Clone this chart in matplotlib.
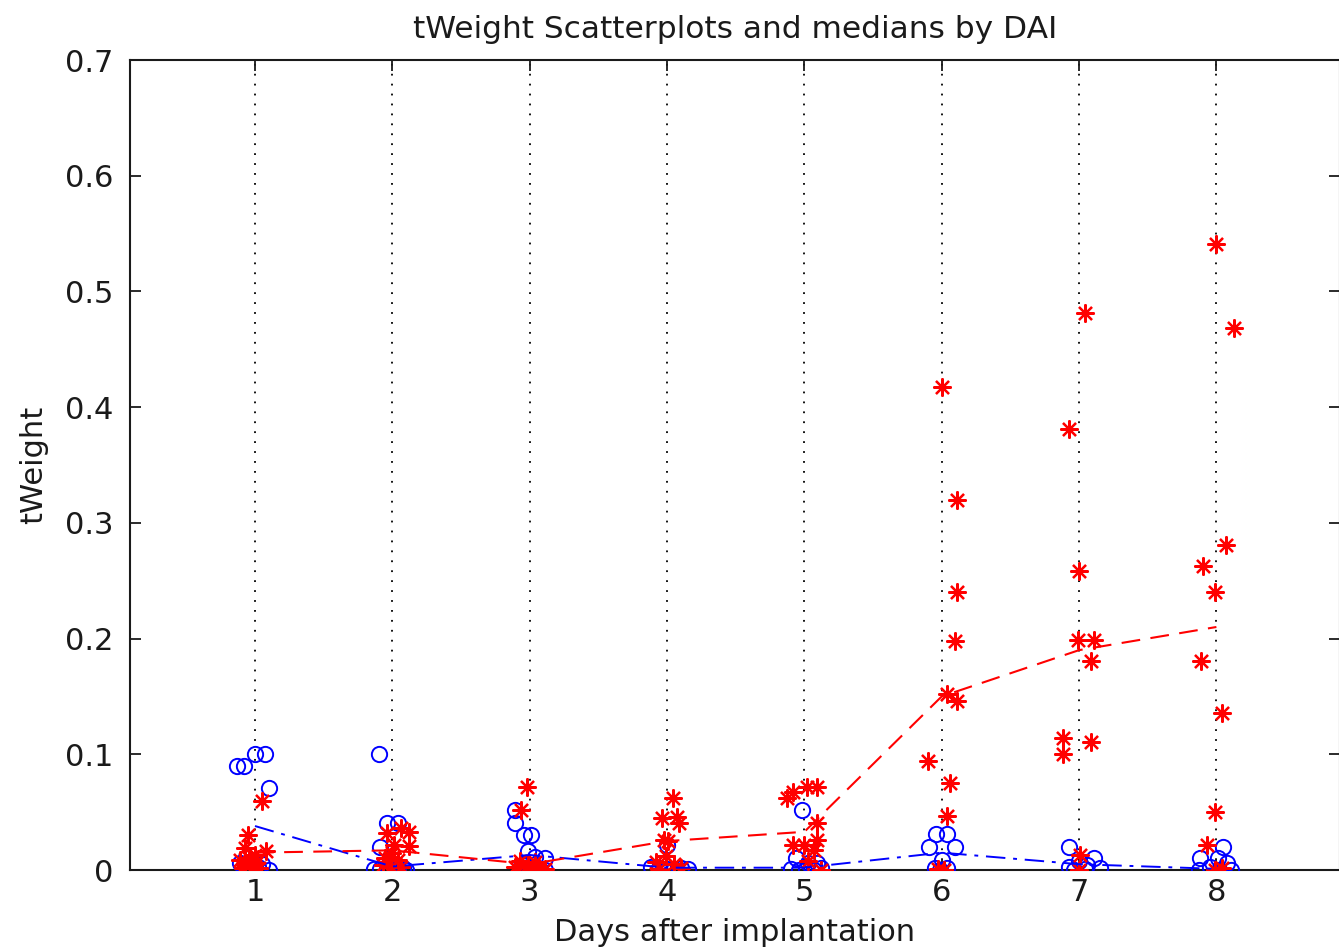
import matplotlib
matplotlib.use("Agg")
import matplotlib.pyplot as plt
import numpy as np

plt.rcParams['font.family'] = ['DejaVu Sans']

days = [1, 2, 3, 4, 5, 6, 7, 8]
x_ticks = [1, 2, 3, 4, 5, 6, 7, 8]
y_ticks = [0, 0.1, 0.2, 0.3, 0.4, 0.5, 0.6, 0.7]
y_tick_labels = ['0', '0.1', '0.2', '0.3', '0.4', '0.5', '0.6', '0.7']

# control group (blue circles): day, horizontal jitter, tWeight
blue_day = [1]*11 + [2]*10 + [3]*12 + [4]*8 + [5]*9 + [6]*8 + [7]*8 + [8]*8
blue_jitter = [-0.13, -0.08, 0.00, 0.07, 0.10, -0.11, -0.05, 0.02, 0.05, 0.10, -0.02,
               -0.10, -0.04, 0.04, -0.09, -0.13, -0.09, -0.04, 0.04, 0.08, 0.10,
               -0.11, -0.11, -0.04, 0.01, -0.01, 0.11, 0.04, -0.07, 0.00, 0.07, 0.11, -0.04,
               -0.12, -0.06, 0.00, 0.05, 0.10, 0.15, -0.02, 0.00,
               -0.02, -0.06, 0.03, 0.09, -0.10, -0.04, 0.01, 0.07, 0.12,
               -0.04, 0.04, -0.09, 0.10, 0.00, -0.05, 0.04, -0.01,
               -0.07, 0.00, 0.11, -0.07, 0.06, 0.15, -0.04, 0.04,
               0.05, -0.12, 0.01, 0.08, -0.05, 0.11, 0.02, -0.13]
blue_val = [0.090, 0.090, 0.100, 0.100, 0.071, 0.006, 0.004, 0.003, 0.005, 0.000, 0.002,
            0.100, 0.041, 0.041, 0.020, 0.001, 0.001, 0.001, 0.002, 0.002, 0.000,
            0.052, 0.041, 0.030, 0.030, 0.016, 0.010, 0.011, 0.002, 0.001, 0.001, 0.000, 0.005,
            0.003, 0.002, 0.001, 0.001, 0.002, 0.001, 0.000, 0.022,
            0.052, 0.010, 0.006, 0.006, 0.001, 0.000, 0.001, 0.000, 0.002,
            0.031, 0.031, 0.020, 0.020, 0.009, 0.002, 0.002, 0.000,
            0.020, 0.008, 0.010, 0.003, 0.004, 0.002, 0.000, 0.001,
            0.020, 0.010, 0.010, 0.006, 0.003, 0.000, 0.000, 0.000]

# treated group (red asterisks): day, horizontal jitter, tWeight
red_day = [1]*12 + [2]*11 + [3]*9 + [4]*11 + [5]*11 + [6]*11 + [7]*11 + [8]*11
red_jitter = [0.05, -0.05, -0.07, 0.08, -0.11, -0.07, -0.04, -0.02, 0.01, 0.03, -0.09, 0.00,
              -0.04, 0.06, 0.12, 0.12, 0.00, -0.05, 0.04, 0.06, -0.01, 0.01, -0.07,
              -0.02, -0.06, -0.07, -0.01, 0.04, 0.07, 0.01, -0.11, 0.11,
              0.04, -0.04, 0.07, 0.09, -0.02, 0.01, -0.08, -0.01, 0.05, 0.10, -0.06,
              -0.13, -0.08, 0.02, 0.09, 0.09, -0.08, 0.00, 0.09, 0.07, 0.12, 0.03,
              0.00, 0.11, 0.11, 0.10, 0.04, 0.11, -0.10, 0.06, 0.04, -0.03, 0.02,
              0.04, -0.07, 0.00, -0.01, 0.11, 0.09, -0.12, 0.09, -0.12, 0.01, 0.00,
              0.00, 0.13, 0.07, -0.10, -0.01, -0.11, 0.04, -0.01, -0.07, 0.04, -0.01]
red_val = [0.060, 0.030, 0.019, 0.016, 0.009, 0.004, 0.010, 0.002, 0.006, 0.002, 0.002, 0.013,
           0.032, 0.036, 0.033, 0.021, 0.015, 0.010, 0.009, 0.003, 0.003, 0.022, 0.004,
           0.072, 0.052, 0.008, 0.004, 0.007, 0.002, 0.000, 0.003, 0.001,
           0.062, 0.045, 0.046, 0.041, 0.026, 0.025, 0.007, 0.012, 0.005, 0.002, 0.001,
           0.062, 0.067, 0.072, 0.072, 0.041, 0.022, 0.022, 0.026, 0.017, 0.000, 0.008,
           0.417, 0.320, 0.240, 0.198, 0.152, 0.146, 0.094, 0.075, 0.047, 0.001, 0.000,
           0.481, 0.381, 0.258, 0.199, 0.199, 0.181, 0.114, 0.111, 0.100, 0.013, 0.000,
           0.541, 0.468, 0.281, 0.263, 0.240, 0.181, 0.136, 0.050, 0.022, 0.002, 0.000]

# medians per day
red_median = [0.015, 0.017, 0.005, 0.025, 0.033, 0.150, 0.190, 0.210]
blue_median = [0.038, 0.003, 0.013, 0.002, 0.002, 0.015, 0.005, 0.001]

W, H, DPI = 1339, 952, 100
fig = plt.figure(figsize=(W / DPI, H / DPI), dpi=DPI)
ax = fig.add_axes([130 / W, (H - 870) / H, (1340 - 130) / W, (870 - 60) / H])

# vertical dotted guides at each day
for d in x_ticks:
    ax.axvline(d, color='black', lw=1.3, linestyle=(0, (1, 4.5)), zorder=1)

bx = np.array(blue_day) + np.array(blue_jitter)
rx = np.array(red_day) + np.array(red_jitter)

ax.plot(bx, blue_val, linestyle='none', marker='o', markersize=11,
        markerfacecolor='none', markeredgecolor='#0000ff', markeredgewidth=1.4, zorder=3)
ax.plot(rx, red_val, linestyle='none', marker=(8, 2, 0), markersize=13,
        markeredgecolor='#ff0000', markeredgewidth=1.6, zorder=4)

ax.plot(days, blue_median, color='#0000ff', lw=1.4, dashes=(10, 4, 2, 4), zorder=5)
ax.plot(days, red_median, color='#ff0000', lw=1.5, dashes=(9, 5), zorder=5)

ax.set_xlim(0.09, 8.9)
ax.set_ylim(0, 0.7)
ax.set_xticks(x_ticks)
ax.set_yticks(y_ticks)
ax.set_yticklabels(y_tick_labels)
ax.tick_params(direction='in', length=8, width=1.3, top=True, right=True,
               labelsize=22, colors='#1a1a1a', labelcolor='#1a1a1a')
ax.tick_params(axis='x', pad=6)
ax.tick_params(axis='y', pad=12)

for s in ax.spines.values():
    s.set_linewidth(1.5)
    s.set_color('#1a1a1a')

ax.set_title('tWeight Scatterplots and medians by DAI', fontsize=22.5, color='#1a1a1a', pad=16)
ax.set_xlabel('Days after implantation', fontsize=22, color='#1a1a1a', labelpad=8)
ax.set_ylabel('tWeight', fontsize=22, color='#1a1a1a', labelpad=12)

fig.savefig('out.png', dpi=DPI)
